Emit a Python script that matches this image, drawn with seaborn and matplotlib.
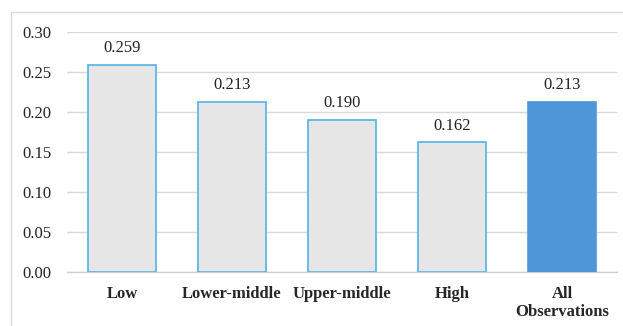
import matplotlib
matplotlib.use("Agg")
import matplotlib.pyplot as plt
import seaborn as sns
import pandas as pd
from matplotlib.patches import Rectangle

categories = ["Low", "Lower-middle", "Upper-middle", "High", "All\nObservations"]
values = [0.259, 0.213, 0.190, 0.162, 0.213]
value_labels = ["0.259", "0.213", "0.190", "0.162", "0.213"]
yticks = [0.00, 0.05, 0.10, 0.15, 0.20, 0.25, 0.30]

df = pd.DataFrame({"group": categories, "value": values})

sns.set_style("white")
plt.rcParams["font.family"] = ["Liberation Serif", "DejaVu Serif"]

fig = plt.figure(figsize=(6.23, 3.26), dpi=100)
ax = fig.add_axes([67 / 623, 54 / 326, 550 / 623, 240 / 326])

colors = ["#e6e6e6"] * 4 + ["#4f96d9"]
edges = ["#52b2e6"] * 4 + ["#4f96d9"]
sns.barplot(data=df, x="group", y="value", hue="group", palette=colors,
            saturation=1, legend=False, width=0.62, ax=ax, zorder=3)
for bar, ec in zip(ax.patches, edges):
    bar.set_edgecolor(ec)
    bar.set_linewidth(1.2)

for i, (v, lab) in enumerate(zip(values, value_labels)):
    ax.text(i, v + 0.011, lab, ha="center", va="bottom", fontsize=12, color="#222222")

ax.set_xlim(-0.5, 4.5)
ax.set_ylim(0, 0.30)
ax.set_yticks(yticks)
ax.set_yticklabels([f"{t:.2f}" for t in yticks], fontsize=12, color="#222222")
ax.tick_params(axis="y", length=0, pad=11)
ax.tick_params(axis="x", length=0, pad=10)
for lbl in ax.get_xticklabels():
    lbl.set_fontweight("bold")
    lbl.set_fontsize(12)
    lbl.set_linespacing(1.15)
ax.set_xlabel("")
ax.set_ylabel("")
ax.yaxis.grid(True, color="#d9d9d9", linewidth=1, zorder=0)
ax.set_axisbelow(True)
for s in ["top", "right", "left"]:
    ax.spines[s].set_visible(False)
ax.spines["bottom"].set_color("#cfcfcf")
ax.spines["bottom"].set_linewidth(1)

# outer chart border
fig.patches.append(Rectangle((11 / 623, -0.05), 1.0, 1 - 12 / 326 + 0.05,
                             transform=fig.transFigure, fill=False,
                             edgecolor="#d9d9d9", linewidth=1))

fig.savefig("out.png", dpi=100)
